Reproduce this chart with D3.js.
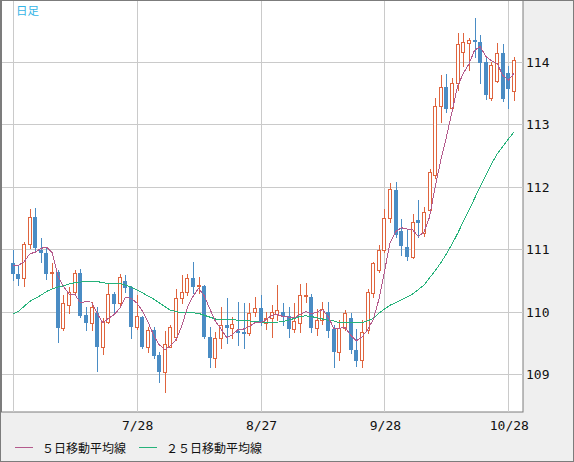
<!DOCTYPE html>
<html>
<head>
<meta charset="utf-8">
<script src="https://cdn.jsdelivr.net/npm/d3@7"></script>
<style>
  body { margin: 0; background: #efefef; }
  svg { display: block; }
</style>
</head>
<body>
<div id="chart"></div>
<script>
////////////////////////////////////////////////////////////////////////
// Data (USD/JPY daily candles)

let dates = ["6/28","6/29","6/30","7/1","7/2",
  "7/5","7/6","7/7","7/8","7/9",
  "7/12","7/13","7/14","7/15","7/16",
  "7/19","7/20","7/21","7/22","7/23",
  "7/26","7/27","7/28","7/29","7/30",
  "8/2","8/3","8/4","8/5","8/6",
  "8/9","8/10","8/11","8/12","8/13",
  "8/16","8/17","8/18","8/19","8/20",
  "8/23","8/24","8/25","8/26","8/27",
  "8/30","8/31","9/1","9/2","9/3",
  "9/6","9/7","9/8","9/9","9/10",
  "9/13","9/14","9/15","9/16","9/17",
  "9/20","9/21","9/22","9/23","9/24",
  "9/27","9/28","9/29","9/30","10/1",
  "10/4","10/5","10/6","10/7","10/8",
  "10/11","10/12","10/13","10/14","10/15",
  "10/18","10/19","10/20","10/21","10/22",
  "10/25","10/26","10/27","10/28","10/29"];

let open = [110.77,110.60,110.53,111.08,111.52,110.98,110.93,110.61,110.63,109.73,
  110.10,110.31,110.61,109.94,109.81,109.97,109.44,109.83,110.28,110.13,
  110.48,110.39,109.75,109.91,109.44,109.70,109.30,109.03,109.44,109.59,
  110.21,110.31,110.53,110.41,110.40,109.60,109.25,109.57,109.78,109.73,
  109.68,109.67,109.65,109.99,110.05,109.81,109.89,109.96,110.00,109.92,
  109.72,109.81,110.26,110.24,109.73,109.86,110.00,109.72,109.35,109.73,
  109.89,109.38,109.22,109.70,110.29,110.66,110.98,111.49,111.94,111.28,
  111.03,110.88,111.46,111.25,111.62,112.18,113.28,113.59,113.25,113.65,
  114.16,114.30,114.34,114.32,113.99,113.41,113.69,114.14,113.81,113.53];

let high = [110.98,110.74,111.11,111.64,111.65,111.17,111.03,110.77,110.66,110.26,
  110.39,110.66,110.68,110.08,110.16,110.08,109.89,110.45,110.31,110.60,
  110.58,110.40,110.26,109.92,109.75,109.75,109.35,109.68,109.78,110.36,
  110.58,110.60,110.80,110.55,110.42,109.75,109.67,110.07,110.21,109.91,
  110.15,110.13,110.13,110.23,110.26,110.00,110.10,110.42,110.13,110.07,
  110.13,110.44,110.45,110.28,110.04,110.15,110.15,109.78,109.86,110.02,
  109.97,109.72,109.86,110.36,110.80,111.06,111.64,112.05,112.08,111.48,
  111.30,111.56,111.78,111.67,112.28,113.41,113.78,113.80,113.73,114.45,
  114.45,114.37,114.69,114.42,114.08,113.99,114.29,114.28,113.92,114.08];

let low = [110.50,110.42,110.40,111.01,110.95,110.79,110.52,110.39,109.52,109.70,
  109.97,110.28,109.91,109.70,109.70,109.04,109.32,109.81,110.00,110.07,
  110.32,109.57,109.72,109.41,109.35,109.25,108.87,108.71,109.43,109.54,
  110.13,110.26,110.29,110.29,109.57,109.11,109.11,109.41,109.49,109.57,
  109.46,109.41,109.62,109.92,109.78,109.72,109.59,109.86,109.78,109.59,
  109.67,109.67,110.15,109.67,109.62,109.80,109.60,109.11,109.22,109.70,
  109.33,109.12,109.11,109.65,110.24,110.63,110.95,111.43,111.19,110.90,
  110.82,110.85,111.19,111.20,111.57,112.13,113.03,113.19,113.20,113.54,
  113.92,113.86,114.07,113.65,113.40,113.38,113.67,113.37,113.25,113.38];

let close = [110.60,110.52,111.08,111.52,111.01,110.93,110.60,110.63,109.73,110.13,
  110.32,110.61,109.92,109.81,110.07,109.44,109.84,110.28,110.12,110.55,
  110.37,109.75,109.92,109.44,109.70,109.28,109.03,109.48,109.75,110.21,
  110.31,110.53,110.39,110.42,109.59,109.25,109.57,109.78,109.73,109.80,
  109.65,109.64,109.97,110.05,109.81,109.89,109.99,110.02,109.91,109.72,
  109.84,110.26,110.27,109.73,109.86,110.04,109.68,109.35,109.73,109.97,
  109.38,109.20,109.67,110.31,110.77,110.98,111.49,111.96,111.22,111.04,
  110.88,111.44,111.41,111.60,112.23,113.28,113.59,113.24,113.65,114.28,
  114.31,114.34,114.31,113.98,113.46,113.94,114.14,113.40,113.56,114.02];

// 5-day and 25-day moving averages as drawn
let ma5 = [110.74,110.74,110.79,110.92,110.95,111.01,111.03,110.94,110.58,110.40,
  110.28,110.28,110.14,110.16,110.15,109.97,109.82,109.89,109.95,110.05,
  110.23,110.21,110.14,110.01,109.84,109.62,109.47,109.39,109.45,109.55,
  109.76,110.06,110.24,110.37,110.25,110.04,109.84,109.72,109.58,109.63,
  109.71,109.72,109.76,109.82,109.82,109.87,109.94,109.95,109.92,109.91,
  109.90,109.95,110.00,109.96,109.99,110.03,109.92,109.73,109.73,109.75,
  109.62,109.53,109.59,109.71,109.87,110.19,110.64,111.10,111.28,111.34,
  111.32,111.31,111.20,111.27,111.51,111.99,112.42,112.79,113.20,113.61,
  113.81,113.96,114.18,114.24,114.08,114.01,113.97,113.78,113.70,113.81];

let ma25 = [109.96,110.00,110.08,110.16,110.21,110.26,110.32,110.36,110.39,110.41,
  110.44,110.46,110.47,110.48,110.48,110.48,110.46,110.45,110.45,110.45,
  110.42,110.39,110.35,110.30,110.25,110.20,110.14,110.08,110.02,110.00,
  109.98,109.98,109.98,109.97,109.94,109.91,109.88,109.88,109.87,109.87,
  109.86,109.86,109.85,109.84,109.83,109.82,109.82,109.83,109.84,109.86,
  109.89,109.92,109.93,109.92,109.90,109.88,109.86,109.85,109.82,109.82,
  109.82,109.82,109.82,109.85,109.89,109.97,110.04,110.10,110.14,110.19,
  110.23,110.28,110.35,110.42,110.54,110.65,110.78,110.92,111.08,111.25,
  111.44,111.62,111.81,112.00,112.18,112.36,112.52,112.64,112.76,112.87];

// axis ticks
let gridDates = ["6/28", "7/28", "8/27", "9/28", "10/28"];
let yTicks = [109, 110, 111, 112, 113, 114];

let legendNames = ["５日移動平均線", "２５日移動平均線"];

////////////////////////////////////////////////////////////////////////
// Layout

let width = 574;
let height = 462;
let plotRight = 523;
let plotBottom = 412;

let upColor = "#df643e";
let downColor = "#4a8cc4";
let ma5Color = "#b45a8c";
let ma25Color = "#26b27a";

let svg = d3.select("#chart")
  .append("svg")
  .attr("width", width)
  .attr("height", height);

// grey background + white plot panel
svg.append("rect")
  .attr("width", width)
  .attr("height", height)
  .attr("fill", "#efefef");

svg.append("rect")
  .attr("x", 1.5)
  .attr("y", 0.5)
  .attr("width", plotRight - 1.5)
  .attr("height", plotBottom - 0.5)
  .attr("fill", "#fff")
  .attr("stroke", "#7c7c7c");

let xScale = d3.scalePoint()
  .domain(dates)
  .range([12.7, 514]);

let yScale = d3.scaleLinear()
  .domain([109, 114])
  .range([374, 61.5]);

let px = (v) => Math.round(v) + 0.5;

// gridlines
let grid = svg.append("g")
  .attr("stroke", "#cacaca")
  .attr("shape-rendering", "crispEdges");

grid.selectAll(".hgrid")
  .data(yTicks)
  .enter()
  .append("line")
  .attr("class", "hgrid")
  .attr("x1", 2)
  .attr("x2", plotRight)
  .attr("y1", (d) => px(yScale(d)))
  .attr("y2", (d) => px(yScale(d)));

grid.selectAll(".vgrid")
  .data(gridDates)
  .enter()
  .append("line")
  .attr("class", "vgrid")
  .attr("x1", (d) => px(xScale(d)))
  .attr("x2", (d) => px(xScale(d)))
  .attr("y1", 1)
  .attr("y2", plotBottom);

// candles
let candles = dates.map((d, i) => ({
  date: d, o: open[i], h: high[i], l: low[i], c: close[i]
}));

let cg = svg.append("g")
  .attr("shape-rendering", "crispEdges");

let candle = cg.selectAll("g")
  .data(candles)
  .enter()
  .append("g");

candle.append("line")
  .attr("x1", (d) => px(xScale(d.date)))
  .attr("x2", (d) => px(xScale(d.date)))
  .attr("y1", (d) => Math.round(yScale(d.h)))
  .attr("y2", (d) => Math.round(yScale(d.l)) + 1)
  .attr("stroke", (d) => d.c >= d.o ? upColor : downColor);

// down candles: solid blue body
candle.filter((d) => d.c < d.o)
  .append("rect")
  .attr("x", (d) => Math.round(xScale(d.date)) - 2)
  .attr("width", 4)
  .attr("y", (d) => Math.round(yScale(d.o)))
  .attr("height", (d) => Math.max(1, Math.round(yScale(d.c)) - Math.round(yScale(d.o))))
  .attr("fill", downColor);

// up candles: hollow body
candle.filter((d) => d.c >= d.o)
  .append("rect")
  .attr("x", (d) => Math.round(xScale(d.date)) - 1.5)
  .attr("width", 3)
  .attr("y", (d) => Math.round(yScale(d.c)) + 0.5)
  .attr("height", (d) => Math.max(1, Math.round(yScale(d.o)) - Math.round(yScale(d.c))))
  .attr("fill", "#fff")
  .attr("stroke", upColor);

// moving average lines
let lineMaker = (values) => d3.line()
  .x((d, i) => xScale(dates[i]))
  .y((d) => yScale(d))(values);

svg.append("path")
  .attr("d", lineMaker(ma25))
  .attr("fill", "none")
  .attr("stroke", ma25Color)
  .attr("stroke-width", 1)
  .attr("shape-rendering", "crispEdges");

svg.append("path")
  .attr("d", lineMaker(ma5))
  .attr("fill", "none")
  .attr("stroke", ma5Color)
  .attr("stroke-width", 1)
  .attr("shape-rendering", "crispEdges");

// outer frame
svg.append("rect")
  .attr("x", 0.5)
  .attr("y", 0.5)
  .attr("width", width - 1)
  .attr("height", height - 1)
  .attr("fill", "none")
  .attr("stroke", "#7c7c7c");

// y labels on the right
svg.selectAll(".ylab")
  .data(yTicks)
  .enter()
  .append("text")
  .attr("class", "ylab")
  .attr("x", 526)
  .attr("y", (d) => yScale(d) + 5)
  .style("font-family", "'DejaVu Sans Mono', monospace")
  .style("font-size", "13px")
  .attr("fill", "#111")
  .text((d) => d);

// x labels (first gridline has no label)
svg.selectAll(".xlab")
  .data(gridDates.slice(1))
  .enter()
  .append("text")
  .attr("class", "xlab")
  .attr("x", (d) => xScale(d) + 1)
  .attr("y", 430)
  .attr("text-anchor", "middle")
  .style("font-family", "'DejaVu Sans Mono', monospace")
  .style("font-size", "13px")
  .attr("fill", "#111")
  .text((d) => d);

// title tag
svg.append("text")
  .attr("x", 16)
  .attr("y", 15)
  .style("font-family", "'Noto Sans CJK JP', sans-serif")
  .style("font-size", "11.5px")
  .attr("fill", "#35b4e6")
  .text("日足");

// legend
let legendX = [15, 139];
let legendColors = [ma5Color, ma25Color];
let legend = svg.selectAll(".legend")
  .data(legendNames)
  .enter()
  .append("g")
  .attr("class", "legend")
  .attr("transform", (d, i) => "translate(" + legendX[i] + ",0)");

legend.append("line")
  .attr("x1", 0)
  .attr("x2", 18)
  .attr("y1", 447.5)
  .attr("y2", 447.5)
  .attr("stroke", (d, i) => legendColors[i])
  .attr("shape-rendering", "crispEdges");

legend.append("text")
  .attr("x", 27)
  .attr("y", 452.5)
  .style("font-family", "'Noto Sans CJK JP', sans-serif")
  .style("font-size", "12px")
  .attr("fill", "#111")
  .text((d) => d);
</script>
</body>
</html>
